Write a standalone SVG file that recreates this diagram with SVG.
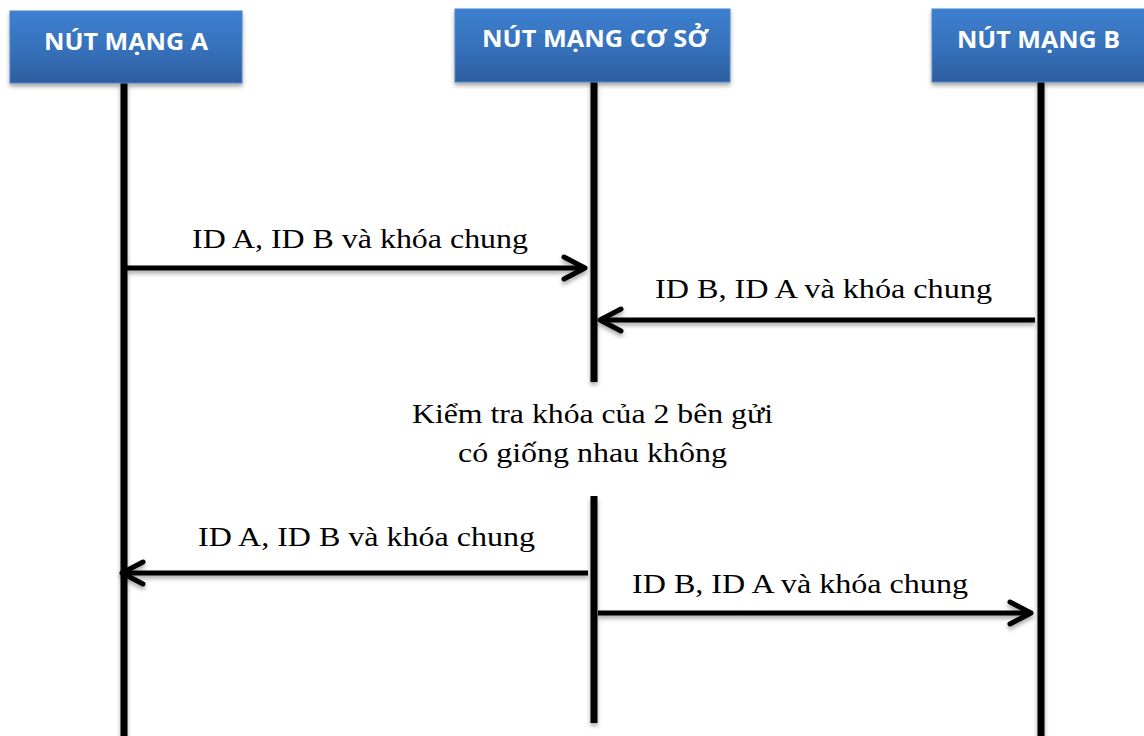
<svg xmlns="http://www.w3.org/2000/svg" width="1144" height="736" viewBox="0 0 1144 736">
  <defs>
    <linearGradient id="boxFill" x1="0" y1="0" x2="0" y2="1">
      <stop offset="0" stop-color="#3d80d0"/>
      <stop offset="0.55" stop-color="#3670ba"/>
      <stop offset="1" stop-color="#2d5d9f"/>
    </linearGradient>
    <filter id="shadow" filterUnits="userSpaceOnUse" x="0" y="0" width="1144" height="736">
      <feDropShadow dx="0" dy="3" stdDeviation="2" flood-color="#000" flood-opacity="0.35"/>
    </filter>
    <marker id="chevron" markerUnits="userSpaceOnUse" orient="auto" refX="0" refY="0" overflow="visible">
      <path d="M -21 -11 L 0 0 L -21 11" fill="none" stroke="#000" stroke-width="5" stroke-linecap="round" stroke-linejoin="round"/>
    </marker>
  </defs>
  <style>
    .box { fill: url(#boxFill); stroke: #4a86c8; stroke-width: 1; filter: url(#shadow); }
    .title { font-family: "Open Sans", "Liberation Sans", sans-serif; font-weight: bold; font-size: 24px; fill: #ffffff; text-anchor: middle; }
    .life { stroke: #000; stroke-width: 7; fill: none; }
    .msg { stroke: #000; stroke-width: 5; fill: none; marker-end: url(#chevron); }
    .label { font-family: "Liberation Serif", "Times New Roman", serif; font-size: 28px; fill: #000; text-anchor: middle; }
  </style>

  <rect width="1144" height="736" fill="#ffffff"/>

  <!-- participant A -->
  <g id="node-a">
    <line class="life" x1="124" y1="83" x2="124" y2="736" filter="url(#shadow)"/>
    <rect class="box" x="10" y="11" width="232" height="72"/>
    <text class="title" x="126" y="50" textLength="164" lengthAdjust="spacingAndGlyphs">NÚT MẠNG A</text>
  </g>

  <!-- base station -->
  <g id="node-base">
    <line class="life" x1="594" y1="82" x2="594" y2="382" filter="url(#shadow)"/>
    <line class="life" x1="594" y1="496" x2="594" y2="723" filter="url(#shadow)"/>
    <rect class="box" x="455" y="9" width="275" height="73"/>
    <text class="title" x="595" y="47" textLength="226" lengthAdjust="spacingAndGlyphs">NÚT MẠNG CƠ SỞ</text>
  </g>

  <!-- participant B -->
  <g id="node-b">
    <line class="life" x1="1041" y1="82" x2="1041" y2="736" filter="url(#shadow)"/>
    <rect class="box" x="932" y="9" width="220" height="73"/>
    <text class="title" x="1038.5" y="48" textLength="163" lengthAdjust="spacingAndGlyphs">NÚT MẠNG B</text>
  </g>

  <!-- check step at the base station -->
  <g id="note-check">
    <text class="label" x="592.5" y="423" textLength="361" lengthAdjust="spacingAndGlyphs">Kiểm tra khóa của 2 bên gửi</text>
    <text class="label" x="592.5" y="462" textLength="269" lengthAdjust="spacingAndGlyphs">có giống nhau không</text>
  </g>

  <!-- messages -->
  <g id="connectors" filter="url(#shadow)">
    <line class="msg" x1="127" y1="268" x2="585" y2="268"/>
    <line class="msg" x1="1035" y1="320" x2="600" y2="320"/>
    <line class="msg" x1="588" y1="573" x2="122" y2="573"/>
    <line class="msg" x1="598" y1="613" x2="1031" y2="613"/>
  </g>

  <g id="connector-labels">
    <text class="label" x="360" y="248" textLength="336" lengthAdjust="spacingAndGlyphs">ID A, ID B và khóa chung</text>
    <text class="label" x="823.5" y="298" textLength="337" lengthAdjust="spacingAndGlyphs">ID B, ID A và khóa chung</text>
    <text class="label" x="366.5" y="546" textLength="337" lengthAdjust="spacingAndGlyphs">ID A, ID B và khóa chung</text>
    <text class="label" x="800" y="593" textLength="336" lengthAdjust="spacingAndGlyphs">ID B, ID A và khóa chung</text>
  </g>
</svg>
